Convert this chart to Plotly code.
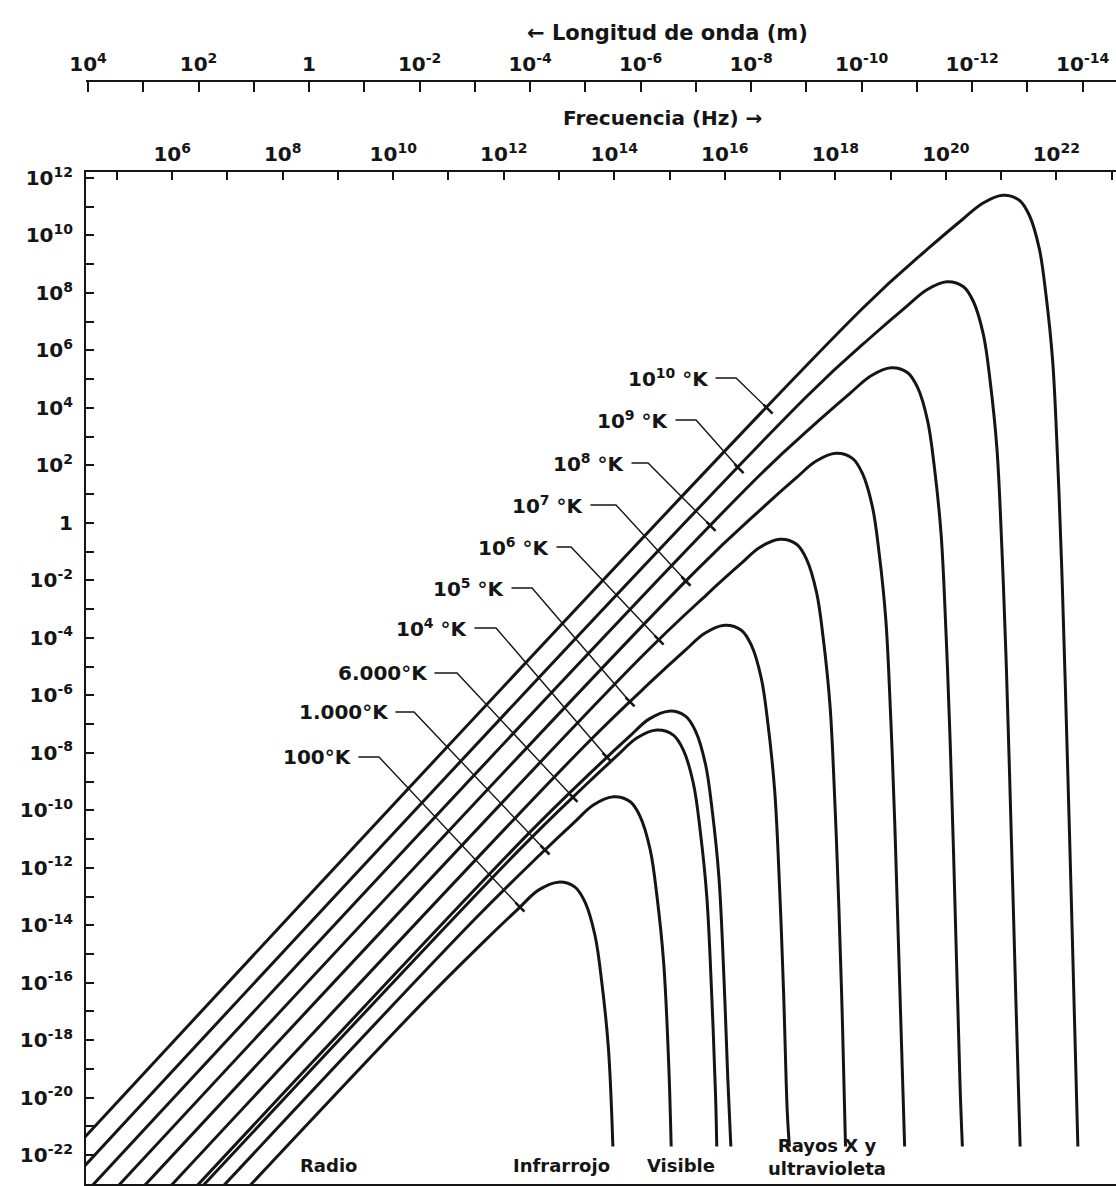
import numpy as np
import plotly.graph_objects as go

# ---------------- data (log10 values) ----------------
# frequency exponent (Hz) and spectral radiance exponent for each temperature curve
TEMP_NAMES = ["1e10", "1e9", "1e8", "1e7", "1e6", "1e5", "1e4", "6000", "1000", "100"]
TEMP_LABELS = ["10<sup>10</sup> °K", "10<sup>9</sup> °K", "10<sup>8</sup> °K", "10<sup>7</sup> °K",
               "10<sup>6</sup> °K", "10<sup>5</sup> °K", "10<sup>4</sup> °K", "6.000°K",
               "1.000°K", "100°K"]

NU_1E10 = [3.8, 18.496, 19.709, 20.306, 20.668, 21.03, 21.330, 21.511, 21.692, 21.814, 21.935, 22.025, 22.094, 22.161, 22.279, 22.39]
B_1E10 = [-22.659, 7.468, 9.591, 10.565, 11.122, 11.40, 11.226, 10.704, 9.542, 7.921, 5.600, 2.120, -1.359, -5.534, -13.652, -21.7]

NU_1E9 = [3.8, 17.486, 18.699, 19.296, 19.658, 20.02, 20.320, 20.501, 20.682, 20.804, 20.925, 21.015, 21.084, 21.151, 21.269, 21.345]
B_1E9 = [-23.650, 4.406, 6.555, 7.545, 8.112, 8.39, 8.216, 7.694, 6.532, 4.911, 2.590, -0.890, -4.369, -8.544, -16.662, -21.7]

NU_1E8 = [3.8, 16.476, 17.689, 18.286, 18.648, 19.01, 19.310, 19.491, 19.672, 19.794, 19.915, 20.005, 20.074, 20.141, 20.259, 20.30]
B_1E8 = [-24.622, 1.364, 3.538, 4.544, 5.122, 5.40, 5.226, 4.704, 3.542, 1.921, -0.400, -3.880, -7.359, -11.534, -19.652, -21.7]

NU_1E7 = [3.8, 15.476, 16.689, 17.286, 17.648, 18.01, 18.310, 18.491, 18.672, 18.794, 18.915, 19.005, 19.074, 19.141, 19.255]
B_1E7 = [-25.604, -1.668, 0.532, 1.554, 2.142, 2.42, 2.246, 1.724, 0.562, -1.059, -3.380, -6.860, -10.339, -14.514, -21.7]

NU_1E6 = [3.8, 14.466, 15.679, 16.276, 16.638, 17.00, 17.300, 17.481, 17.662, 17.784, 17.905, 17.995, 18.064, 18.131, 18.185]
B_1E6 = [-26.576, -4.711, -2.484, -1.447, -0.848, -0.57, -0.744, -1.266, -2.428, -4.049, -6.370, -9.850, -13.329, -17.504, -21.7]

NU_1E5 = [3.8, 13.466, 14.679, 15.276, 15.638, 16.00, 16.300, 16.481, 16.662, 16.784, 16.905, 16.995, 17.064, 17.131, 17.17]
B_1E5 = [-27.568, -7.753, -5.500, -4.447, -3.838, -3.56, -3.734, -4.256, -5.418, -7.039, -9.360, -12.840, -16.319, -20.494, -21.7]

NU_1E4 = [3.8, 12.456, 13.669, 14.266, 14.628, 14.99, 15.290, 15.471, 15.652, 15.774, 15.895, 15.985, 16.054, 16.11]
B_1E4 = [-28.540, -10.795, -8.516, -7.448, -6.828, -6.55, -6.724, -7.246, -8.408, -10.029, -12.350, -15.830, -19.309, -21.7]

NU_6000 = [3.8, 12.236, 13.449, 14.046, 14.408, 14.77, 15.070, 15.251, 15.432, 15.554, 15.675, 15.765, 15.834, 15.855]
B_6000 = [-28.759, -11.465, -9.182, -8.110, -7.488, -7.21, -7.384, -7.906, -9.068, -10.689, -13.010, -16.490, -19.969, -21.7]

NU_1000 = [3.8, 11.456, 12.669, 13.266, 13.628, 13.99, 14.290, 14.471, 14.652, 14.774, 14.895, 14.985, 15.03]
B_1000 = [-29.522, -13.827, -11.522, -10.438, -9.808, -9.53, -9.704, -10.226, -11.388, -13.009, -15.330, -18.810, -21.7]

NU_100 = [3.8, 10.456, 11.669, 12.266, 12.628, 12.99, 13.290, 13.471, 13.652, 13.774, 13.895, 13.975]
B_100 = [-30.494, -16.849, -14.518, -13.419, -12.778, -12.50, -12.674, -13.196, -14.358, -15.979, -18.300, -21.7]

# tick exponents (labelled every two decades, ticked every decade)
FREQ_LABEL_EXP = list(range(6, 23, 2))
FREQ_MINOR_EXP = list(range(5, 24, 2))
WAVE_LABEL_EXP = list(range(-14, 5, 2))
WAVE_MINOR_EXP = list(range(-13, 4, 2))
Y_LABEL_EXP = list(range(-22, 13, 2))
Y_MINOR_EXP = list(range(-23, 12, 2))

# region labels at the foot of the chart
REGION_TEXT = ["Radio", "Infrarrojo", "Visible", "Rayos X y<br>ultravioleta"]

# ---------------- layout helpers (positions, not data) ----------------
X_RANGE = [4.44, 23.08]          # log10 Hz
Y_RANGE = [-23.003, 12.209]      # log10 radiance
LOG_C = np.log10(2.998e8)        # wavelength = c / frequency

LABEL_X = [15.752, 15.028, 14.232, 13.490, 12.874, 12.060, 11.390, 10.666, 9.960, 9.290]
LABEL_Y = [5.042, 3.580, 2.084, 0.623, -0.838, -2.265, -3.657, -5.223, -6.580, -8.146]
ELBOW_X = [16.204, 15.480, 14.611, 14.032, 13.218, 12.512, 11.860, 11.154, 10.376, 9.742]
TARGET_X = [16.784, 16.259, 15.752, 15.299, 14.811, 14.286, 13.870, 13.254, 12.747, 12.294]
REGION_X = [8.82, 13.037, 15.209, 17.85]
REGION_Y = [-22.342, -22.342, -22.342, -22.06]

FONT = "DejaVu Sans"
INK = "#151515"


def pow_label(n):
    return "1" if n == 0 else f"10<sup>{n}</sup>"


curves_nu = [NU_1E10, NU_1E9, NU_1E8, NU_1E7, NU_1E6, NU_1E5, NU_1E4, NU_6000, NU_1000, NU_100]
curves_b = [B_1E10, B_1E9, B_1E8, B_1E7, B_1E6, B_1E5, B_1E4, B_6000, B_1000, B_100]

fig = go.Figure()

for name, nu, b in zip(TEMP_NAMES, curves_nu, curves_b):
    fig.add_trace(go.Scatter(
        x=np.power(10.0, nu), y=np.power(10.0, b), mode="lines", name=name,
        line=dict(color=INK, width=3, shape="spline", smoothing=1.0),
        hoverinfo="skip", showlegend=False))

# leader lines from the temperature labels to their curves
for i, (nu, b) in enumerate(zip(curves_nu, curves_b)):
    tx = TARGET_X[i]
    ty = float(np.interp(tx, nu, b))
    xs = [LABEL_X[i] + 0.08, ELBOW_X[i], tx]
    ys = [LABEL_Y[i], LABEL_Y[i], ty]
    fig.add_trace(go.Scatter(
        x=np.power(10.0, xs), y=np.power(10.0, ys), mode="lines",
        line=dict(color=INK, width=1.4), hoverinfo="skip", showlegend=False))
    fig.add_trace(go.Scatter(
        x=[10 ** tx], y=[10 ** ty], mode="markers",
        marker=dict(symbol="line-nw", size=9, line=dict(width=2.6, color=INK)),
        hoverinfo="skip", showlegend=False))
    fig.add_annotation(x=LABEL_X[i], y=LABEL_Y[i], xref="x", yref="y",
                       text=TEMP_LABELS[i], showarrow=False, xanchor="right", yanchor="middle",
                       font=dict(family=FONT, size=20, color=INK, weight="bold"))

# dummy trace so the wavelength axis is drawn
fig.add_trace(go.Scatter(x=[1.0], y=[1.0], xaxis="x2", yaxis="y", mode="markers",
                         marker=dict(opacity=0), hoverinfo="skip", showlegend=False))

for txt, rx, ry in zip(REGION_TEXT, REGION_X, REGION_Y):
    fig.add_annotation(x=rx, y=ry, xref="x", yref="y", text=txt, showarrow=False,
                       xanchor="center", yanchor="middle",
                       font=dict(family=FONT, size=18, color=INK, weight="bold"))

fig.add_annotation(x=0.565, y=1.0435, xref="paper", yref="paper",
                   text="\u2190 Longitud de onda (m)", showarrow=False,
                   xanchor="center", yanchor="middle",
                   font=dict(family=FONT, size=21, color=INK, weight="bold"))
fig.add_annotation(x=0.560, y=0.9665, xref="paper", yref="paper",
                   text="Frecuencia (Hz) \u2192", showarrow=False,
                   xanchor="center", yanchor="middle",
                   font=dict(family=FONT, size=20, color=INK, weight="bold"))

tickfont = dict(family=FONT, size=20, color=INK, weight="bold")


def minor_ticks(exps, length):
    return dict(tickmode="array", tickvals=[10.0 ** n for n in exps],
                ticks="inside", ticklen=length, tickwidth=1.5, tickcolor=INK, showgrid=False)


fig.update_layout(
    width=1116, height=1186,
    margin=dict(l=86, r=0, t=81, b=2),
    paper_bgcolor="white", plot_bgcolor="white",
    showlegend=False,
    xaxis=dict(
        type="log", range=X_RANGE, side="top",
        tickmode="array", tickvals=[10.0 ** n for n in FREQ_LABEL_EXP],
        ticktext=[pow_label(n) for n in FREQ_LABEL_EXP],
        ticks="inside", ticklen=8, tickwidth=1.5, tickcolor=INK,
        minor=minor_ticks(FREQ_MINOR_EXP, 8),
        showline=True, linewidth=2, linecolor=INK, mirror=True,
        showgrid=False, zeroline=False, tickfont=tickfont, ticklabelstandoff=1),
    xaxis2=dict(
        type="log", range=[LOG_C - X_RANGE[0], LOG_C - X_RANGE[1]],
        overlaying="x", anchor="free", position=1.0, side="top",
        tickmode="array", tickvals=[10.0 ** n for n in WAVE_LABEL_EXP],
        ticktext=[pow_label(n) for n in WAVE_LABEL_EXP],
        ticks="inside", ticklen=10, tickwidth=1.5, tickcolor=INK,
        minor=minor_ticks(WAVE_MINOR_EXP, 10),
        showline=True, linewidth=2, linecolor=INK,
        showgrid=False, zeroline=False, tickfont=tickfont, ticklabelstandoff=1),
    yaxis=dict(
        type="log", range=Y_RANGE, domain=[0, 0.9175],
        tickmode="array", tickvals=[10.0 ** n for n in Y_LABEL_EXP],
        ticktext=[pow_label(n) for n in Y_LABEL_EXP],
        ticks="inside", ticklen=8, tickwidth=1.5, tickcolor=INK,
        minor=minor_ticks(Y_MINOR_EXP, 8),
        showline=True, linewidth=2, linecolor=INK,
        showgrid=False, zeroline=False, tickfont=tickfont, ticklabelstandoff=7),
)

fig.write_html("out.html", config={"displayModeBar": False},
               post_script="document.body.style.margin='0px';document.body.style.overflow='hidden';")
